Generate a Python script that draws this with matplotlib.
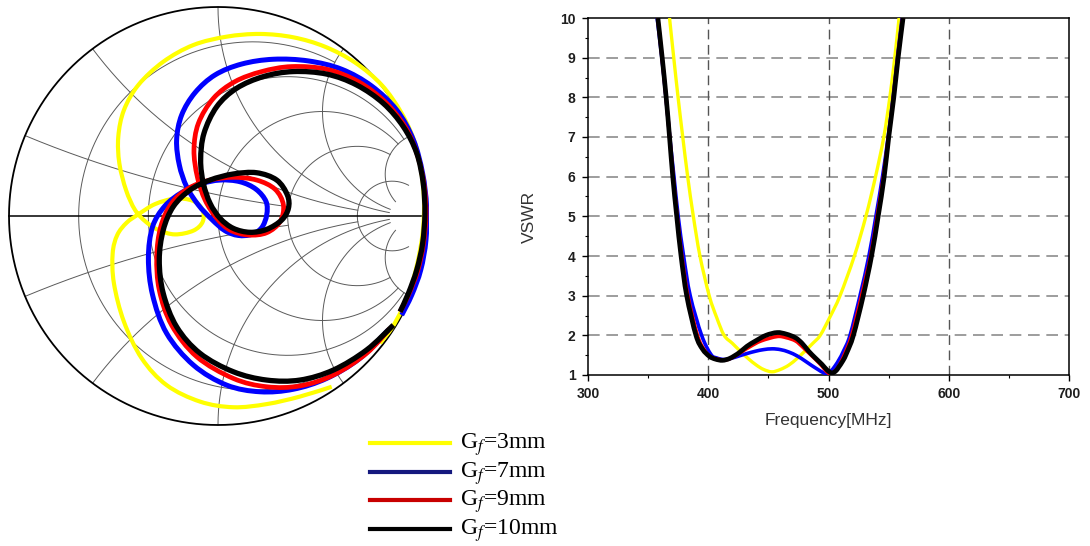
import numpy as np
import matplotlib
matplotlib.use("Agg")
import matplotlib.pyplot as plt
from matplotlib.lines import Line2D
from matplotlib.path import Path
from matplotlib.patches import PathPatch
from matplotlib.ticker import MultipleLocator

# ---------------- data ----------------
labels = ["G$_f$=3mm", "G$_f$=7mm", "G$_f$=9mm", "G$_f$=10mm"]
colors = ["#ffff00", "#0000ff", "#ff0000", "#000000"]
legend_colors = ["#ffff00", "#14187e", "#c80000", "#000000"]

# VSWR vs frequency (MHz)
f_3mm = [367.8, 371.3, 374.9, 378.8, 382.9, 387.6, 393.1, 400.8, 407.0, 413.2, 420.0, 426.0,
         433.0, 440.0, 446.0, 453.0, 460.0, 467.0, 474.0, 481.0, 487.0, 493.1, 501.0, 509.6,
         521.5, 531.1, 539.1, 546.0, 551.0, 555.1, 558.7]
vswr_3mm = [10, 9, 8, 7, 6, 5, 4, 3, 2.45, 2.0, 1.8, 1.62,
            1.42, 1.25, 1.14, 1.08, 1.14, 1.25, 1.42, 1.62, 1.8, 2.0, 2.45, 3,
            4, 5, 6, 7, 8, 9, 10]

f_7mm = [357.5, 361.4, 364.8, 368.0, 371.5, 375.0, 379.5, 385.0, 394.5, 402.2, 407.0, 413.2,
         419.0, 425.6, 432.0, 439.4, 446.0, 453.2, 460.0, 466.9, 474.0, 480.7, 486.0, 491.7,
         495.0, 498.6, 502.0, 505.5, 509.0, 512.4, 517.9, 526.2, 533.6, 539.4, 544.9, 549.6,
         553.7, 557.3, 561.2]
vswr_7mm = [10, 9, 8, 7, 6, 5, 4, 3, 2, 1.52, 1.43, 1.39,
            1.42, 1.48, 1.54, 1.60, 1.64, 1.66, 1.64, 1.58, 1.48, 1.35, 1.24, 1.13,
            1.07, 1.03, 1.10, 1.23, 1.40, 1.60, 2.0, 3, 4, 5, 6, 7,
            8, 9, 10]

f_9mm = [358.0, 361.6, 364.9, 367.9, 370.8, 374.2, 378.0, 383.0, 391.0, 397.0, 403.0, 413.2,
         420.0, 427.0, 435.0, 444.0, 457.3, 465.0, 472.5, 478.0, 483.5, 489.0, 494.5, 498.0,
         501.4, 505.0, 508.3, 513.0, 519.3, 527.5, 535.0, 540.5, 545.7, 549.9, 554.0, 557.6,
         561.7]
vswr_9mm = [10, 9, 8, 7, 6, 5, 4, 3, 2, 1.62, 1.44, 1.38,
            1.44, 1.57, 1.72, 1.86, 1.97, 1.94, 1.86, 1.72, 1.56, 1.40, 1.23, 1.10,
            1.03, 1.09, 1.21, 1.50, 2.0, 3, 4, 5, 6, 7, 8, 9,
            10]

f_10mm = [358.1, 361.7, 365.0, 367.8, 370.5, 373.8, 377.4, 382.1, 389.8, 395.3, 401.0, 406.0,
          411.8, 418.0, 425.6, 432.0, 439.4, 448.0, 457.3, 465.0, 472.5, 478.0, 483.5, 489.0,
          494.5, 499.0, 502.8, 506.0, 508.3, 512.0, 515.2, 520.7, 528.9, 535.8, 541.3, 546.3,
          550.1, 554.3, 557.9, 562.0]
vswr_10mm = [10, 9, 8, 7, 6, 5, 4, 3, 2, 1.65, 1.47, 1.40,
             1.37, 1.42, 1.56, 1.72, 1.86, 2.0, 2.07, 2.03, 1.94, 1.80, 1.60, 1.43,
             1.27, 1.12, 1.05, 1.10, 1.19, 1.36, 1.56, 2.0, 3, 4, 5, 6,
             7, 8, 9, 10]

# Smith chart: reflection coefficient (real, imag) read along each locus
gre_3mm = [0.544, 0.392, 0.233, 0.073, -0.086, -0.246, -0.365, -0.450, -0.498, -0.504, -0.482,
           -0.437, -0.381, -0.301, -0.206, -0.121, -0.075, -0.073, -0.118, -0.206, -0.285,
           -0.346, -0.397, -0.440, -0.472, -0.477, -0.450, -0.381, -0.262, -0.118, 0.041,
           0.201, 0.360, 0.512, 0.656, 0.783, 0.879, 0.943, 0.974, 0.986, 0.979, 0.954,
           0.919, 0.879, 0.831, 0.775]
gim_3mm = [-0.817, -0.864, -0.900, -0.915, -0.888, -0.809, -0.681, -0.506, -0.322, -0.179, -0.091,
           -0.032, 0.008, 0.057, 0.083, 0.073, 0.032, -0.027, -0.070, -0.088, -0.067,
           -0.027, 0.029, 0.124, 0.252, 0.380, 0.507, 0.627, 0.738, 0.818, 0.858,
           0.871, 0.855, 0.810, 0.734, 0.627, 0.491, 0.348, 0.204, 0.061, -0.083, -0.226,
           -0.354, -0.450, -0.537, -0.609]

gre_7mm = [0.815, 0.679, 0.520, 0.360, 0.201, 0.041, -0.118, -0.246, -0.313, -0.333, -0.313,
           -0.254, -0.174, -0.086, 0.010, 0.105, 0.182, 0.230, 0.233, 0.209, 0.161, 0.097,
           0.033, -0.030, -0.094, -0.150, -0.185, -0.198, -0.174, -0.110, -0.014, 0.113,
           0.265, 0.432, 0.592, 0.735, 0.855, 0.935, 0.979, 0.998, 0.995, 0.970, 0.927,
           0.879]
gim_7mm = [-0.545, -0.681, -0.777, -0.829, -0.841, -0.809, -0.713, -0.561, -0.378, -0.203, -0.051,
           0.048, 0.112, 0.153, 0.172, 0.164, 0.128, 0.069, 0.005, -0.056, -0.088, -0.093,
           -0.070, -0.016, 0.053, 0.140, 0.244, 0.364, 0.483, 0.590, 0.675, 0.727,
           0.750, 0.742, 0.702, 0.622, 0.507, 0.364, 0.204, 0.045, -0.115, -0.258, -0.378,
           -0.474]

gre_9mm = [0.823, 0.711, 0.552, 0.392, 0.233, 0.073, -0.102, -0.222, -0.281, -0.293, -0.274,
           -0.222, -0.142, -0.038, 0.073, 0.185, 0.273, 0.313, 0.297, 0.233, 0.145, 0.057,
           -0.006, -0.062, -0.099, -0.115, -0.094, -0.022, 0.081, 0.209, 0.352, 0.520,
           0.671, 0.799, 0.895, 0.954, 0.986, 0.995, 0.982, 0.954, 0.911, 0.871]
gim_9mm = [-0.537, -0.657, -0.761, -0.813, -0.817, -0.777, -0.673, -0.522, -0.354, -0.195, -0.051,
           0.061, 0.132, 0.172, 0.185, 0.172, 0.128, 0.053, -0.027, -0.080, -0.091, -0.067,
           -0.011, 0.077, 0.188, 0.316, 0.443, 0.563, 0.643, 0.691, 0.715, 0.702,
           0.643, 0.547, 0.427, 0.292, 0.148, 0.005, -0.139, -0.266, -0.378, -0.458]

gre_10mm = [0.839, 0.711, 0.552, 0.392, 0.233, 0.073, -0.086, -0.198, -0.262, -0.281, -0.262,
            -0.214, -0.134, -0.038, 0.073, 0.185, 0.281, 0.332, 0.337, 0.305, 0.233, 0.153,
            0.073, 0.010, -0.038, -0.070, -0.083, -0.067, -0.006, 0.089, 0.217, 0.360,
            0.520, 0.663, 0.791, 0.887, 0.951, 0.982, 0.990, 0.979, 0.951, 0.911, 0.871]
gim_10mm = [-0.522, -0.641, -0.737, -0.785, -0.785, -0.745, -0.657, -0.530, -0.370, -0.211, -0.067,
            0.045, 0.124, 0.172, 0.201, 0.207, 0.172, 0.100, 0.037, -0.019, -0.064, -0.078,
            -0.059, -0.011, 0.061, 0.156, 0.268, 0.396, 0.523, 0.611, 0.667, 0.691,
            0.679, 0.627, 0.539, 0.427, 0.300, 0.156, 0.013, -0.131, -0.258, -0.370, -0.458]

# Smith grid: resistance circles (value -> max |x|), reactance arcs (value -> max r)
r_grid = {0.2: 2, 0.5: 5, 1: 5, 2: 5, 5: 10}
x_grid = {0.2: 2, 0.5: 5, 1: 10, 2: 10, 5: 10}

vswr_f = [f_3mm, f_7mm, f_9mm, f_10mm]
vswr_v = [vswr_3mm, vswr_7mm, vswr_9mm, vswr_10mm]
smith_re = [gre_3mm, gre_7mm, gre_9mm, gre_10mm]
smith_im = [gim_3mm, gim_7mm, gim_9mm, gim_10mm]


def smooth_line(ax, x, y, **kw):
    # draw the read points as one smooth (Catmull-Rom / Bezier) stroke
    p = np.column_stack([x, y]).astype(float)
    ext = np.vstack([p[0], p, p[-1]])
    verts, codes = [p[0]], [Path.MOVETO]
    for i in range(1, len(ext) - 2):
        c1 = ext[i] + (ext[i + 1] - ext[i - 1]) / 6
        c2 = ext[i + 1] - (ext[i + 2] - ext[i]) / 6
        verts += [c1, c2, ext[i + 1]]
        codes += [Path.CURVE4] * 3
    patch = PathPatch(Path(verts, codes), fill=False, capstyle="butt",
                      joinstyle="round", **kw)
    ax.add_patch(patch)
    return patch


# ---------------- figure ----------------
W, H = 1090, 546
fig = plt.figure(figsize=(W / 100, H / 100), dpi=100)
plt.rcParams["mathtext.fontset"] = "stix"

# Smith chart
cx, cy, rad = 218, 216, 211
sax = fig.add_axes([(cx - rad) / W, 1 - (cy + rad) / H, 2 * rad / W, 2 * rad / H])
lim = 211 / 209
sax.set_xlim(-lim, lim)
sax.set_ylim(-lim, lim)
sax.set_aspect("equal")
sax.axis("off")


def z2g(z):
    return (z - 1) / (z + 1)


grid_kw = dict(color="#5a5a5a", lw=0.7, zorder=1)
for r, xmax in r_grid.items():
    xs = np.sinh(np.linspace(-np.arcsinh(xmax), np.arcsinh(xmax), 800))
    g = z2g(r + 1j * xs)
    sax.plot(g.real, g.imag, **grid_kw)
for x, rmax in x_grid.items():
    rs = np.sinh(np.linspace(0, np.arcsinh(rmax), 500))
    for s in (1, -1):
        g = z2g(rs + 1j * s * x)
        sax.plot(g.real, g.imag, **grid_kw)
t = np.linspace(0, 2 * np.pi, 721)
sax.plot(np.cos(t), np.sin(t), color="black", lw=1.3, zorder=2)
sax.plot([-1, 1], [0, 0], color="black", lw=1.1, zorder=2)

smith_lw = [3.0, 3.6, 3.4, 3.8]
for re, im, c, lw in zip(smith_re, smith_im, colors, smith_lw):
    smooth_line(sax, re, im, edgecolor=c, lw=lw, zorder=3)

# VSWR plot
ax = fig.add_axes([588 / W, 1 - 375 / H, (1069 - 588) / W, (375 - 18) / H])
vswr_lw = [2.4, 2.6, 2.6, 3.4]
for fx, vy, c, lw in zip(vswr_f, vswr_v, colors, vswr_lw):
    smooth_line(ax, fx, vy, edgecolor=c, lw=lw, zorder=3)

ax.set_xlim(300, 700)
ax.set_ylim(1, 10)
ax.xaxis.set_major_locator(MultipleLocator(100))
ax.xaxis.set_minor_locator(MultipleLocator(50))
ax.yaxis.set_major_locator(MultipleLocator(1))
ax.yaxis.set_minor_locator(MultipleLocator(0.5))
ax.tick_params(which="major", direction="out", length=4, width=1, pad=5,
               labelsize=10, labelcolor="#1e1e1e")
ax.tick_params(which="minor", direction="out", length=2.5, width=0.8)
for lab in ax.get_xticklabels() + ax.get_yticklabels():
    lab.set_fontfamily("Liberation Sans")
    lab.set_fontweight("bold")
for sp in ax.spines.values():
    sp.set_linewidth(1.1)

for yv in range(2, 10):
    ax.axhline(yv, color="#8c8c8c", lw=1.2, dashes=(7, 4), zorder=1)
for xv in (400, 500, 600):
    ax.axvline(xv, color="#555555", lw=1.0, dashes=(7, 4), zorder=1)

ax.set_xlabel("Frequency[MHz]", fontsize=12.5, family="Liberation Sans", color="#333333")
ax.set_ylabel("VSWR", fontsize=12.5, family="Liberation Sans", color="#333333")
ax.xaxis.set_label_coords(0.5, -(413 - 375) / 357)
ax.yaxis.set_label_coords(-(588 - 537) / 481, (375 - 217) / 357)

# legend below the Smith chart
row0, pitch = 443, 28.5
for i, (lab, c) in enumerate(zip(labels, legend_colors)):
    yy = 1 - (row0 + i * pitch) / H
    fig.add_artist(Line2D([370 / W, 450 / W], [yy, yy], color=c, lw=3.0,
                          transform=fig.transFigure))
    fig.text(460 / W, yy - 6 / H, lab, fontsize=17, family="Liberation Serif",
             va="baseline", ha="left")

fig.savefig("out.png", dpi=100)
